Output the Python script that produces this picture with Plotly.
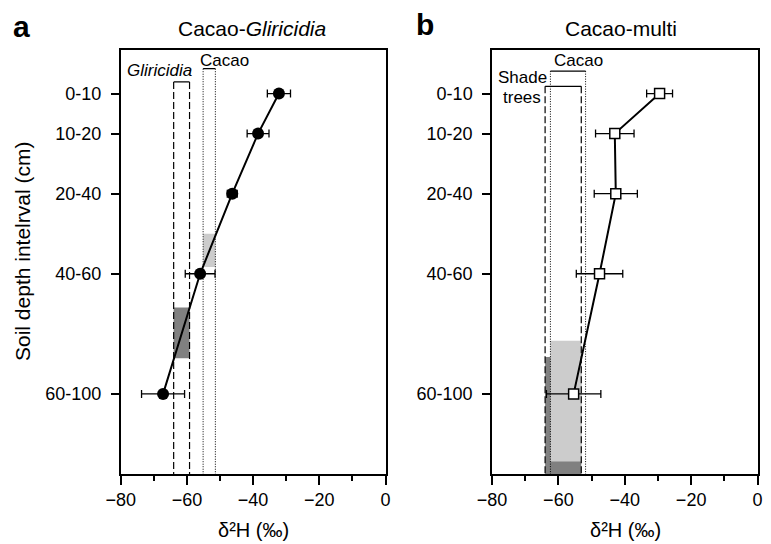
import plotly.graph_objects as go

W, H = 771, 544

# ---------------- data ----------------
depth_labels = ["0-10", "10-20", "20-40", "40-60", "60-100"]
depth_mid = [5, 15, 30, 50, 80]

# Panel a: Cacao-Gliricidia
a_d2h = [-32.2, -38.5, -46.3, -56.0, -67.2]
a_err = [3.5, 3.3, 1.5, 4.5, 6.5]
# Panel b: Cacao-multi
b_d2h = [-29.5, -43.0, -42.7, -47.6, -55.4]
b_err = [3.9, 5.8, 6.5, 7.0, 8.2]

# source (xylem) ranges  [low, high] and bracket top depth
a_gliricidia_range = [-64.0, -59.2]
a_gliricidia_top = 2.1
a_cacao_range = [-55.1, -51.4]
a_cacao_top = -1.2
b_shade_range = [-64.0, -53.1]
b_shade_top = 3.2
b_cacao_range = [-62.4, -51.8]
b_cacao_top = -0.6

# uptake depth zones (depth from, depth to)
a_cacao_zone = [40.0, 48.3]
a_glir_zone = [58.4, 71.1]
b_shade_zone = [70.8, 100.0]
b_cacao_zone = [66.7, 96.9]

x_range = [-80, 0]
y_range = [100, -6]
x_ticks = [-80, -60, -40, -20, 0]

# ---------------- layout helpers ----------------
def px_x(p):
    return p / W

def px_y(p):
    return 1 - p / H

FONT = "Arial, Liberation Sans, sans-serif"
LIGHT = "#cccccc"
DARK = "#808080"

fig = go.Figure()

fig.add_trace(go.Scatter(
    x=a_d2h, y=depth_mid, mode="lines+markers",
    line=dict(color="black", width=2),
    marker=dict(symbol="circle", size=12, color="black"),
    error_x=dict(type="data", array=a_err, color="black", thickness=1.3, width=4),
    xaxis="x", yaxis="y", showlegend=False))

fig.add_trace(go.Scatter(
    x=b_d2h, y=depth_mid, mode="lines+markers",
    line=dict(color="black", width=2),
    marker=dict(symbol="square", size=10, color="white", line=dict(color="black", width=1.5)),
    error_x=dict(type="data", array=b_err, color="black", thickness=1.3, width=4),
    xaxis="x2", yaxis="y2", showlegend=False))

shapes = []

def rect(xr, yr, zone, lo, hi, color):
    shapes.append(dict(type="rect", xref=xr, yref=yr, x0=lo, x1=hi, y0=zone[0], y1=zone[1],
                       fillcolor=color, line=dict(width=0), layer="below"))

def box(xr, yr, rng, top, dash, width):
    lo, hi = rng
    bottom = y_range[0]
    for xv in (lo, hi):
        shapes.append(dict(type="line", xref=xr, yref=yr, x0=xv, x1=xv, y0=top, y1=bottom,
                           line=dict(color="black", width=width, dash=dash), layer="below"))
    shapes.append(dict(type="line", xref=xr, yref=yr, x0=lo, x1=hi, y0=top, y1=top,
                       line=dict(color="black", width=1.3), layer="below"))

# panel a
rect("x", "y", a_cacao_zone, a_cacao_range[0], a_cacao_range[1], LIGHT)
rect("x", "y", a_glir_zone, a_gliricidia_range[0], a_gliricidia_range[1], DARK)
box("x", "y", a_gliricidia_range, a_gliricidia_top, "7px,3px", 1.2)
box("x", "y", a_cacao_range, a_cacao_top, "1px,1.5px", 1.0)

# panel b
rect("x2", "y2", b_shade_zone, b_shade_range[0], b_shade_range[1], DARK)
rect("x2", "y2", b_cacao_zone, b_cacao_range[0], b_shade_range[1], LIGHT)
box("x2", "y2", b_shade_range, b_shade_top, "7px,3px", 1.2)
box("x2", "y2", b_cacao_range, b_cacao_top, "1px,1.5px", 1.0)

axis_common = dict(showline=True, mirror=True, linecolor="black", linewidth=1.5,
                   showgrid=False, zeroline=False, ticks="outside", tickcolor="black",
                   tickwidth=1.5, automargin=False,
                   tickfont=dict(family=FONT, size=18, color="black"))

xa = dict(axis_common, range=x_range, tickvals=x_ticks, ticklen=9,
          minor=dict(dtick=10, ticks="outside", ticklen=5, tickwidth=1.5, tickcolor="black"))
ya = dict(axis_common, range=y_range, tickvals=depth_mid, ticktext=depth_labels, ticklen=8,
          ticklabelstandoff=6)

ydom = [px_y(474), px_y(49.5)]

fig.update_layout(
    width=W, height=H,
    margin=dict(l=0, r=0, t=0, b=0),
    plot_bgcolor="white", paper_bgcolor="white",
    font=dict(family=FONT, color="black"),
    xaxis=dict(xa, domain=[px_x(120.7), px_x(385.5)], anchor="y"),
    yaxis=dict(ya, domain=ydom, anchor="x"),
    xaxis2=dict(xa, domain=[px_x(492), px_x(757.5)], anchor="y2"),
    yaxis2=dict(ya, domain=ydom, anchor="x2"),
    shapes=shapes,
)

ann = []
def text(x, y, s, size=15, **kw):
    ann.append(dict(xref="paper", yref="paper", x=px_x(x), y=px_y(y), text=s, showarrow=False,
                    font=dict(family=FONT, size=size, color="black"), xanchor="center",
                    yanchor="middle", **kw))

text(21.5, 26, "<b>a</b>", size=30)
text(425, 25, "<b>b</b>", size=30)
text(252, 28, "Cacao-<i>Gliricidia</i>", size=21)
text(621, 28, "Cacao-multi", size=21)
text(22, 252, "Soil depth intelrval (cm)", size=21, textangle=-90)
text(253, 530, "δ²H (‰)", size=20)
text(625, 530, "δ²H (‰)", size=20)
# source labels
text(159, 71, "<i>Gliricidia</i>", size=17)
text(224, 60, "Cacao", size=17)
text(578, 60, "Cacao", size=17)
text(522, 78, "Shade", size=17)
text(522, 97, "trees", size=17)

fig.update_layout(annotations=ann)
fig.write_html("out.html", config={"displayModeBar": False},
               post_script="document.body.style.margin='0';document.body.style.padding='0';")
